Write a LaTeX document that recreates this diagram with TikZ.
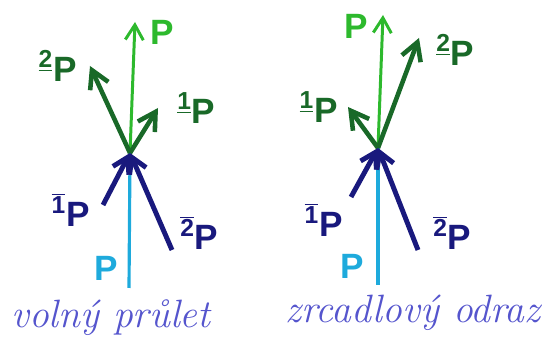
\documentclass[tikz,border=0pt]{standalone}
\usepackage{fontspec}
\setsansfont{Liberation Sans}
\usetikzlibrary{arrows.meta, positioning}
\definecolor{pgreen}{RGB}{45,185,45}
\definecolor{dgreen}{RGB}{25,105,40}
\definecolor{dblue}{RGB}{25,25,125}
\definecolor{pcyan}{RGB}{30,170,220}
\definecolor{pen}{RGB}{85,85,205}
\begin{document}
\begin{tikzpicture}[x=0.02cm, y=-0.02cm, node distance=0.3cm,
          plabel/.style={inner sep=0pt, font=\sffamily\bfseries\fontsize{20}{20}\selectfont},
          note/.style={inner sep=0pt, color=pen, font=\itshape\fontsize{22.5}{24}\selectfont},
          light/.style={-{Straight Barb[length=3mm, width=3.6mm]}, line width=1.7pt, color=pgreen},
          outgoing/.style={-{Straight Barb[length=3.5mm, width=4mm]}, line width=2.6pt, color=dgreen},
          incoming/.style={-{Straight Barb[length=3mm, width=3.6mm]}, line width=2.8pt, color=dblue},
          beam/.style={line width=1.8pt, color=pcyan}]
        \useasboundingbox (0,0) rectangle (552,340);

        % volny prulet
        \coordinate (v1) at (130,153);
        \coordinate (c1) at (129,288);
        \coordinate (p1) at (135,22);
        \coordinate (a1) at (90,66);
        \coordinate (b1) at (158,108);
        \coordinate (d1) at (103,205);
        \coordinate (e1) at (172,250);

        \draw [beam] (c1) -- (v1);
        \draw [light] (v1) -- (p1);
        \draw [outgoing] (v1) -- (a1);
        \draw [outgoing] (v1) -- (b1);
        \draw [incoming] (d1) -- (v1);
        \draw [incoming] (e1) -- (v1);

        \node [plabel, color=pgreen, right=0.3cm of p1, yshift=-0.2cm] (lp1) {P};
        \node [plabel, color=dgreen, left=0.26cm of a1] (la1) {\textsuperscript{\underline{2}}P};
        \node [plabel, color=dgreen, right=0.38cm of b1] (lb1) {\textsuperscript{\underline{1}}P};
        \node [plabel, color=dblue, left=0.26cm of d1, yshift=-0.1cm] (ld1) {\textsuperscript{$\overline{\mbox{1}}$}P};
        \node [plabel, color=dblue, right=0.16cm of e1, yshift=0.34cm] (le1) {\textsuperscript{$\overline{\mbox{2}}$}P};
        \node [plabel, color=pcyan, left=0.22cm of c1, yshift=0.4cm] (lc1) {P};
        \node [note, below=0.22cm of c1, xshift=-0.36cm] (t1) {voln\'y pr\r{u}let};

        % zrcadlovy odraz
        \coordinate (v2) at (378,148);
        \coordinate (c2) at (378,285);
        \coordinate (p2) at (383,15);
        \coordinate (a2) at (419,38);
        \coordinate (b2) at (348,107);
        \coordinate (d2) at (351,197);
        \coordinate (e2) at (418,250);

        \draw [beam] (c2) -- (v2);
        \draw [light] (v2) -- (p2);
        \draw [outgoing] (v2) -- (a2);
        \draw [outgoing] (v2) -- (b2);
        \draw [incoming] (d2) -- (v2);
        \draw [incoming] (e2) -- (v2);

        \node [plabel, color=pgreen, left=0.3cm of p2, yshift=-0.22cm] (lp2) {P};
        \node [plabel, color=dgreen, right=0.34cm of a2, yshift=-0.24cm] (la2) {\textsuperscript{\underline{2}}P};
        \node [plabel, color=dgreen, left=0.2cm of b2] (lb2) {\textsuperscript{\underline{1}}P};
        \node [plabel, color=dblue, left=0.16cm of d2, yshift=-0.46cm] (ld2) {\textsuperscript{$\overline{\mbox{1}}$}P};
        \node [plabel, color=dblue, right=0.3cm of e2, yshift=0.34cm] (le2) {\textsuperscript{$\overline{\mbox{2}}$}P};
        \node [plabel, color=pcyan, left=0.28cm of c2, yshift=0.38cm] (lc2) {P};
        \node [note, below=0.2cm of c2, xshift=0.7cm] (t2) {zrcadlov\'y odraz};
      \end{tikzpicture}
\end{document}
